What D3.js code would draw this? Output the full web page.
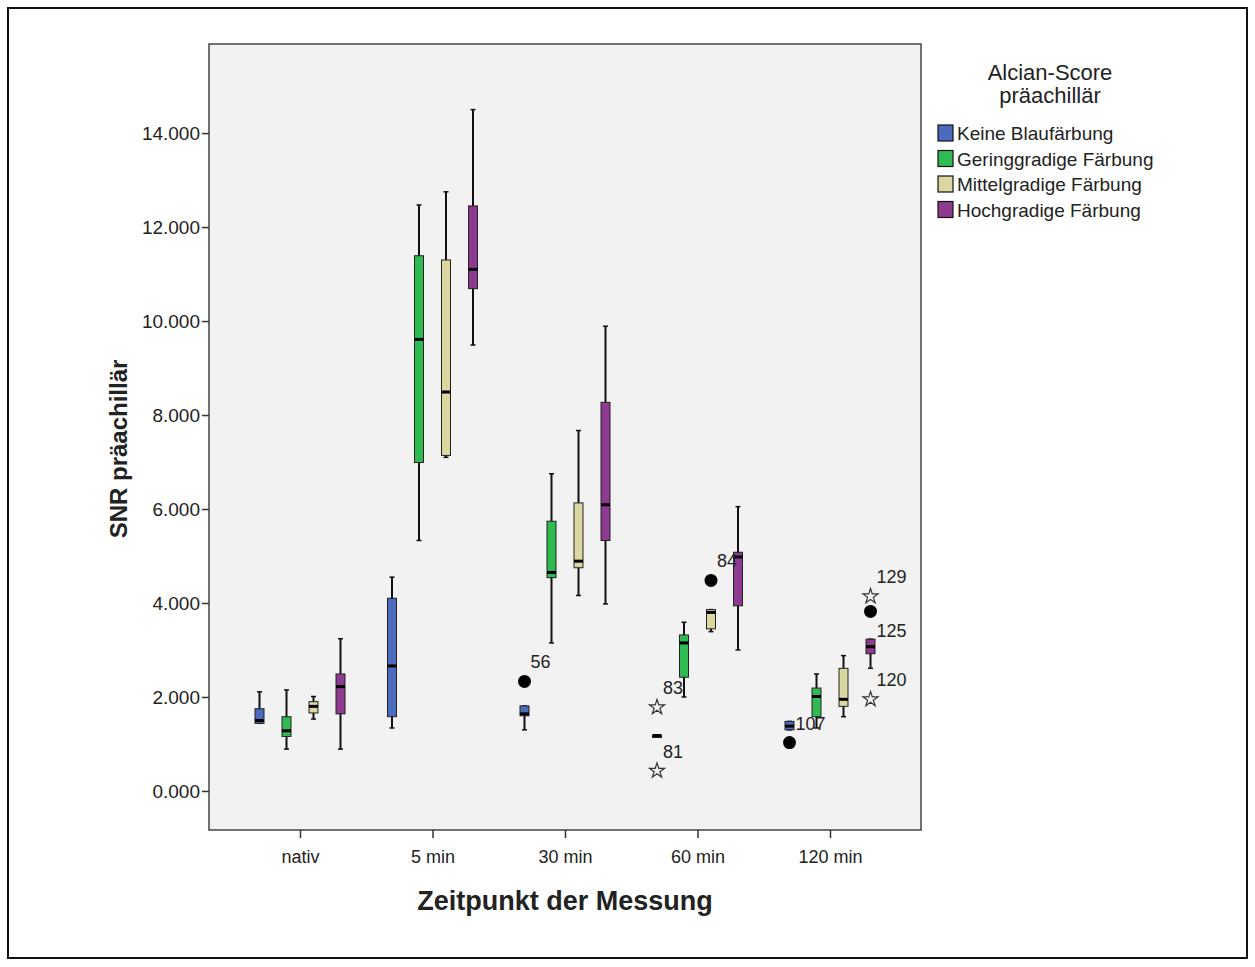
<!DOCTYPE html>
<html>
<head>
<meta charset="utf-8">
<script src="https://cdn.jsdelivr.net/npm/d3@7"></script>
<style>
  body { margin: 0; background: #fff; }
  text { font-family: "Liberation Sans", Arial, sans-serif; fill: #222; }
</style>
</head>
<body>
<div id="chart"></div>
<script>
// Kategorien und Serien
var zeitpunkte = ["nativ", "5 min", "30 min", "60 min", "120 min"];
var scores = ["Keine Blaufärbung", "Geringgradige Färbung", "Mittelgradige Färbung", "Hochgradige Färbung"];
var farben = ["#4a6bbe", "#30bb52", "#dbd7a1", "#8e3a90"];

// [Whisker unten, Q1, Median, Q3, Whisker oben] je Zeitpunkt
var keineBlau = [
  [1.44, 1.44, 1.50, 1.75, 2.11],
  [1.34, 1.58, 2.66, 4.10, 4.55],
  [1.30, 1.60, 1.64, 1.81, 1.81],
  [1.18, 1.18, 1.18, 1.18, 1.18],
  [1.30, 1.30, 1.38, 1.48, 1.48]
];
var geringgradig = [
  [0.89, 1.16, 1.28, 1.58, 2.15],
  [5.33, 6.99, 9.61, 11.39, 12.47],
  [3.15, 4.54, 4.65, 5.74, 6.75],
  [2.00, 2.42, 3.15, 3.32, 3.59],
  [1.34, 1.58, 2.01, 2.19, 2.49]
];
var mittelgradig = [
  [1.53, 1.66, 1.80, 1.90, 2.01],
  [7.10, 7.14, 8.49, 11.30, 12.75],
  [4.16, 4.75, 4.89, 6.13, 7.67],
  [3.39, 3.45, 3.80, 3.86, 3.86],
  [1.58, 1.80, 1.95, 2.61, 2.88]
];
var hochgradig = [
  [0.89, 1.64, 2.22, 2.49, 3.24],
  [9.49, 10.69, 11.10, 12.45, 14.50],
  [3.98, 5.33, 6.09, 8.27, 9.89],
  [3.00, 3.94, 4.98, 5.08, 6.05],
  [2.61, 2.92, 3.07, 3.23, 3.23]
];
var serien = [keineBlau, geringgradig, mittelgradig, hochgradig];

// Ausreißer: Kreis = Ausreißer, Stern = Extremwert
var ausreisser = [
  { zeit: "30 min", score: 0, wert: 2.33, fall: "56", typ: "kreis" },
  { zeit: "60 min", score: 0, wert: 1.78, fall: "83", typ: "stern" },
  { zeit: "60 min", score: 0, wert: 0.43, fall: "81", typ: "stern" },
  { zeit: "60 min", score: 2, wert: 4.48, fall: "84", typ: "kreis" },
  { zeit: "120 min", score: 0, wert: 1.03, fall: "107", typ: "kreis" },
  { zeit: "120 min", score: 3, wert: 4.14, fall: "129", typ: "stern" },
  { zeit: "120 min", score: 3, wert: 3.82, fall: "125", typ: "kreis" },
  { zeit: "120 min", score: 3, wert: 1.95, fall: "120", typ: "stern" }
];

var yTicks = [0, 2, 4, 6, 8, 10, 12, 14];

var svgWidth = 1255;
var svgHeight = 967;
var plot = { left: 209, top: 44, right: 921, bottom: 830 };

var svg = d3.select("#chart")
  .append("svg")
  .attr("width", svgWidth)
  .attr("height", svgHeight);

// äußerer Rahmen
svg.append("rect")
  .attr("x", 8).attr("y", 8)
  .attr("width", 1239).attr("height", 950)
  .attr("fill", "none")
  .attr("stroke", "#111")
  .attr("stroke-width", 2);

// Plotfläche
svg.append("rect")
  .attr("x", plot.left).attr("y", plot.top)
  .attr("width", plot.right - plot.left)
  .attr("height", plot.bottom - plot.top)
  .attr("fill", "#f2f2f2")
  .attr("stroke", "#444")
  .attr("stroke-width", 1.5);

var yScale = d3.scaleLinear()
  .domain([-0.831, 15.896])
  .range([plot.bottom, plot.top]);

var xScale = d3.scalePoint()
  .domain(zeitpunkte)
  .range([300, 830]);

var inner = d3.scaleBand()
  .domain(d3.range(scores.length))
  .range([-54, 54]);

// Achsen
var leftAxis = d3.axisLeft(yScale)
  .tickValues(yTicks)
  .tickFormat(d3.format(".3f"))
  .tickSize(7)
  .tickPadding(2);

var bottomAxis = d3.axisBottom(xScale).tickSize(8).tickPadding(12);

var yAxisG = svg.append("g")
  .attr("transform", `translate(${plot.left}, 0)`)
  .call(leftAxis)
  .attr("font-size", null)
  .attr("font-family", null);
yAxisG.select(".domain").remove();
yAxisG.selectAll("line").attr("stroke", "#333").attr("stroke-width", 1.5);
yAxisG.selectAll("text")
  .style("font-size", "19px")
  .attr("fill", "#333");

var xAxisG = svg.append("g")
  .attr("transform", `translate(0, ${plot.bottom})`)
  .call(bottomAxis)
  .attr("font-size", null)
  .attr("font-family", null);
xAxisG.select(".domain").remove();
xAxisG.selectAll("line").attr("stroke", "#333").attr("stroke-width", 1.5);
xAxisG.selectAll("text")
  .style("font-size", "18px")
  .attr("fill", "#333");

// Achsentitel
svg.append("text")
  .attr("x", 565).attr("y", 910)
  .attr("text-anchor", "middle")
  .style("font-size", "27px")
  .style("font-weight", "bold")
  .text("Zeitpunkt der Messung");

svg.append("text")
  .attr("transform", "translate(127, 449) rotate(-90)")
  .attr("text-anchor", "middle")
  .style("font-size", "24px")
  .style("font-weight", "bold")
  .text("SNR präachillär");

// Boxplots
var boxW = 9;
var capW = 5;
serien.forEach(function(serie, s) {
  var g = svg.append("g");
  var items = serie.map(function(v, i) {
    return { zeit: zeitpunkte[i], lo: v[0], q1: v[1], med: v[2], q3: v[3], hi: v[4] };
  });
  var cx = function(d) { return xScale(d.zeit) + inner(s) + inner.bandwidth() / 2; };

  var b = g.selectAll("g.box").data(items).enter().append("g").attr("class", "box");

  b.append("line")
    .attr("x1", cx).attr("x2", cx)
    .attr("y1", d => yScale(d.hi)).attr("y2", d => yScale(d.lo))
    .attr("stroke", "#111").attr("stroke-width", 2);

  b.append("line")
    .attr("x1", d => cx(d) - capW / 2).attr("x2", d => cx(d) + capW / 2)
    .attr("y1", d => yScale(d.hi)).attr("y2", d => yScale(d.hi))
    .attr("stroke", "#111").attr("stroke-width", 1.5);
  b.append("line")
    .attr("x1", d => cx(d) - capW / 2).attr("x2", d => cx(d) + capW / 2)
    .attr("y1", d => yScale(d.lo)).attr("y2", d => yScale(d.lo))
    .attr("stroke", "#111").attr("stroke-width", 1.5);

  b.append("rect")
    .attr("x", d => cx(d) - boxW / 2)
    .attr("y", d => yScale(d.q3))
    .attr("width", boxW)
    .attr("height", d => Math.max(2, yScale(d.q1) - yScale(d.q3)))
    .attr("fill", farben[s])
    .attr("stroke", "#222")
    .attr("stroke-width", 1);

  b.append("line")
    .attr("x1", d => cx(d) - boxW / 2).attr("x2", d => cx(d) + boxW / 2)
    .attr("y1", d => yScale(d.med)).attr("y2", d => yScale(d.med))
    .attr("stroke", "#000").attr("stroke-width", 3);
});

// Ausreißer
var pos = function(d) {
  return [xScale(d.zeit) + inner(d.score) + inner.bandwidth() / 2, yScale(d.wert)];
};
var star = d3.symbol().type(d3.symbolStar).size(70);

ausreisser.forEach(function(d) {
  var p = pos(d);
  if (d.typ === "kreis") {
    svg.append("circle")
      .attr("cx", p[0]).attr("cy", p[1]).attr("r", 6.5)
      .attr("fill", "#000");
  } else {
    svg.append("path")
      .attr("d", star())
      .attr("transform", `translate(${p[0]}, ${p[1]})`)
      .attr("fill", "none")
      .attr("stroke", "#333")
      .attr("stroke-width", 1.2);
  }
  var unten = d.fall === "125";
  svg.append("text")
    .attr("x", p[0] + 6)
    .attr("y", p[1] + (unten ? 26 : -13))
    .style("font-size", "18px")
    .attr("fill", "#333")
    .text(d.fall);
});

// Legende
var legend = svg.append("g");
legend.append("text")
  .attr("x", 1050).attr("y", 80)
  .attr("text-anchor", "middle")
  .style("font-size", "22px")
  .attr("fill", "#333")
  .text("Alcian-Score");
legend.append("text")
  .attr("x", 1050).attr("y", 103)
  .attr("text-anchor", "middle")
  .style("font-size", "22px")
  .attr("fill", "#333")
  .text("präachillär");

var items = legend.selectAll("g.item")
  .data(scores)
  .enter()
  .append("g")
  .attr("class", "item")
  .attr("transform", (d, i) => `translate(938, ${125 + i * 25.5})`);

items.append("rect")
  .attr("width", 15).attr("height", 16)
  .attr("fill", (d, i) => farben[i])
  .attr("stroke", "#111")
  .attr("stroke-width", 1.2);

items.append("text")
  .attr("x", 19).attr("y", 15)
  .style("font-size", "19px")
  .attr("fill", "#222")
  .text(d => d);
</script>
</body>
</html>
